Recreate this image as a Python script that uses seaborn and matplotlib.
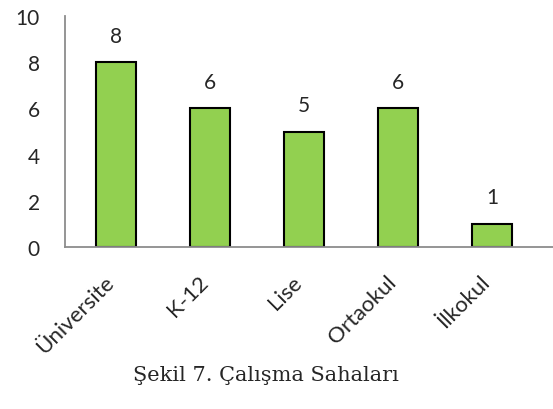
import matplotlib
matplotlib.use("Agg")
import matplotlib.pyplot as plt
import matplotlib.transforms as mtransforms
import seaborn as sns
import pandas as pd

# veriler
kategoriler = ["Üniversite", "K-12", "Lise", "Ortaokul", "İlkokul"]
degerler = [8, 6, 5, 6, 1]
baslik = "Şekil 7. Çalışma Sahaları"

df = pd.DataFrame({"saha": kategoriler, "sayi": degerler})

sns.set_style("white")
plt.rcParams["font.family"] = ["Lato", "DejaVu Sans"]

fig = plt.figure(figsize=(5.53, 4.10), dpi=100)
ax = fig.add_axes([0.1175, 0.395, 0.8825, 0.5634])

sns.barplot(data=df, x="saha", y="sayi", color="#92D050", width=0.43,
            edgecolor="black", linewidth=1.5, saturation=1, ax=ax)
ax.bar_label(ax.containers[0], fontsize=15, padding=12)

ax.set_ylim(0, 10)
ax.set_yticks(range(0, 11, 2))
ax.set_xlim(-0.54, 4.65)
ax.set_xlabel("")
ax.set_ylabel("")

for s in ["top", "right"]:
    ax.spines[s].set_visible(False)
for s in ["left", "bottom"]:
    ax.spines[s].set_color("#8C8C8C")
    ax.spines[s].set_linewidth(1.3)

ax.tick_params(axis="both", length=0, labelsize=15)
ax.tick_params(axis="y", pad=18)
ax.tick_params(axis="x", pad=16, labelsize=16)
kaydir = mtransforms.ScaledTranslation(-12 / 100, -2 / 100, fig.dpi_scale_trans)
for lbl in ax.get_xticklabels():
    lbl.set_rotation(45)
    lbl.set_ha("right")
    lbl.set_va("top")
    lbl.set_rotation_mode("anchor")
    lbl.set_transform(lbl.get_transform() + kaydir)

fig.text(0.48, 0.085, baslik, ha="center", va="center", fontsize=15,
         family=["DejaVu Serif"])

fig.savefig("out.png", dpi=100)
